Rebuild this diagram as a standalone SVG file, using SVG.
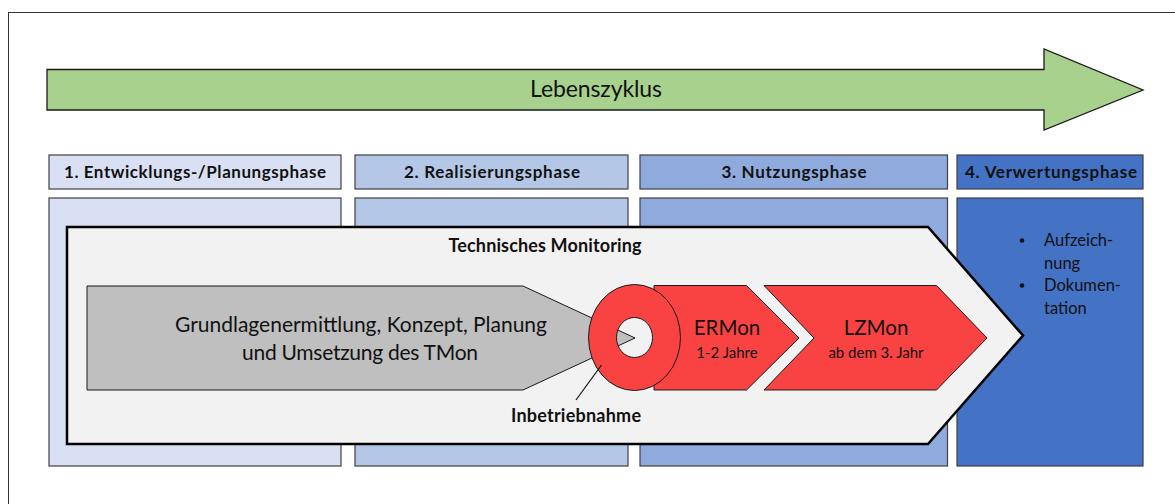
<svg xmlns="http://www.w3.org/2000/svg" width="1175" height="504" viewBox="0 0 1175 504">
  <style>
    text { font-family: Lato, "Open Sans", "Liberation Sans", sans-serif; fill: #111; }
    .hdr { font-size: 17px; font-weight: bold; text-anchor: middle; }
    .phase { stroke: #404040; stroke-width: 1.2; }
    .p1 { fill: #DAE0F3; }
    .p2 { fill: #B4C7E7; }
    .p3 { fill: #8FAADC; }
    .p4 { fill: #4472C4; }
    .red { fill: #F94343; stroke: #1a1a1a; stroke-width: 1; }
    .big { font-size: 21px; text-anchor: middle; }
    .mid { font-size: 20.5px; text-anchor: middle; }
    .small { font-size: 15px; text-anchor: middle; }
    .bul { font-size: 16.5px; }
  </style>
  <rect x="8.5" y="12.5" width="1200" height="600" fill="#fff" stroke="#333" stroke-width="1"/>

  <g id="lebenszyklus">
    <polygon points="47,69.5 1044,69.5 1044,49 1143,90 1044,130 1044,110 47,110" fill="#A9D18E" stroke="#1a1a1a" stroke-width="1.3"/>
    <text x="596" y="97" font-size="23" text-anchor="middle" textLength="132">Lebenszyklus</text>
  </g>

  <g id="phase1">
    <rect class="phase p1" x="49" y="155" width="292" height="34"/>
    <text class="hdr" x="195" y="178" textLength="262">1. Entwicklungs-/Planungsphase</text>
    <rect class="phase p1" x="49" y="198" width="292" height="268"/>
  </g>
  <g id="phase2">
    <rect class="phase p2" x="355" y="155" width="273" height="34"/>
    <text class="hdr" x="492" y="178" textLength="176">2. Realisierungsphase</text>
    <rect class="phase p2" x="355" y="198" width="273" height="268"/>
  </g>
  <g id="phase3">
    <rect class="phase p3" x="640" y="155" width="307.5" height="34"/>
    <text class="hdr" x="794" y="178" textLength="145">3. Nutzungsphase</text>
    <rect class="phase p3" x="640" y="198" width="307.5" height="268"/>
  </g>
  <g id="phase4">
    <rect class="phase p4" x="957" y="155" width="186" height="34"/>
    <text class="hdr" x="1051" y="178" textLength="172">4. Verwertungsphase</text>
    <rect class="phase p4" x="957" y="198" width="186" height="268"/>
    <circle cx="1022" cy="240.5" r="2.3" fill="#111"/>
    <circle cx="1022" cy="285.5" r="2.3" fill="#111"/>
    <text class="bul" x="1044" y="246">Aufzeich-</text>
    <text class="bul" x="1044" y="268.5">nung</text>
    <text class="bul" x="1044" y="291">Dokumen-</text>
    <text class="bul" x="1044" y="313.5">tation</text>
  </g>

  <g id="technisches-monitoring">
    <polygon points="67,227 928,227 1023,335.5 928,444 67,444" fill="#F2F2F2" stroke="#000" stroke-width="2.5"/>
    <text x="545" y="252" font-size="18" font-weight="bold" text-anchor="middle" textLength="193">Technisches Monitoring</text>
  </g>

  <g id="grundlagen">
    <polygon points="87,286 523,286 635,338 523,390 87,390" fill="#BFBFBF" stroke="#1a1a1a" stroke-width="1"/>
    <text class="big" x="361" y="332" textLength="372">Grundlagenermittlung, Konzept, Planung</text>
    <text class="big" x="360" y="360" textLength="236">und Umsetzung des TMon</text>
  </g>

  <g id="ermon">
    <polygon class="red" points="654,285.5 746.5,285.5 799,338 746.5,390 654,390"/>
    <text class="mid" x="727" y="334.5">ERMon</text>
    <text class="small" x="727" y="358">1-2 Jahre</text>
  </g>

  <g id="lzmon">
    <polygon class="red" points="764,285.5 936.5,285.5 987,338 936.5,390 764,390 814,338"/>
    <text class="mid" x="876" y="334.5">LZMon</text>
    <text class="small" x="876" y="358">ab dem 3. Jahr</text>
  </g>

  <g id="inbetriebnahme">
    <path class="red" fill-rule="evenodd" d="M588.5,337.5 a46,53 0 1,0 92,0 a46,53 0 1,0 -92,0 Z M616.5,337.5 a18,20 0 1,0 36,0 a18,20 0 1,0 -36,0 Z"/>
    <text x="576" y="421.5" font-size="18" font-weight="bold" text-anchor="middle" textLength="130">Inbetriebnahme</text>
  </g>

  <g id="connectors">
    <line x1="576" y1="400" x2="601.5" y2="365" stroke="#111" stroke-width="1.2"/>
  </g>
</svg>
